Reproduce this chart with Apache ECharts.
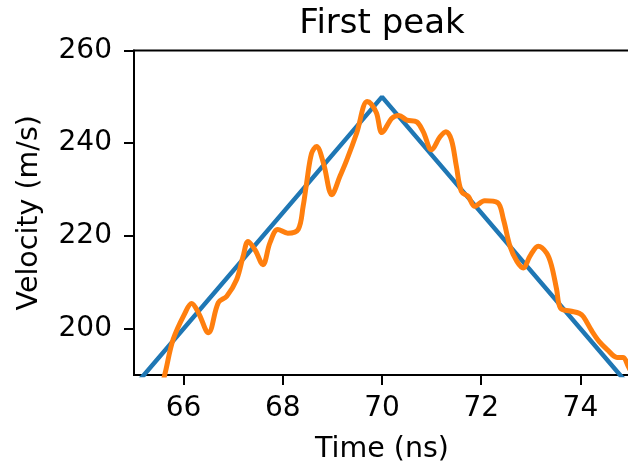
<!DOCTYPE html>
<html>
<head>
<meta charset="utf-8">
<script src="https://cdn.jsdelivr.net/npm/echarts@6/dist/echarts.min.js"></script>
<style>
  html, body { margin: 0; padding: 0; background: #fff; }
  #chart { width: 628px; height: 467px; }
</style>
</head>
<body>
<div id="chart"></div>
<script>
// Ideal (triangular) velocity profile
const modelTime = [65, 70, 75];
const modelVelocity = [187.5, 250, 187.5];

// Measured velocity trace
const measuredTime = [
  65.55, 65.63, 65.79, 66.03, 66.16, 66.3, 66.5, 66.7, 66.87, 67.07,
  67.2, 67.3, 67.44, 67.6, 67.74, 67.9, 68.1, 68.31, 68.41, 68.48,
  68.58, 68.68, 68.82, 68.99, 69.15, 69.29, 69.49, 69.7, 69.78, 69.89,
  70.0, 70.2, 70.34, 70.5, 70.7, 70.83, 71.0, 71.17, 71.29, 71.4,
  71.5, 71.6, 71.74, 71.87, 72.07, 72.33, 72.45, 72.58, 72.72, 72.85,
  72.98, 73.15, 73.32, 73.42, 73.52, 73.6, 73.79, 73.98, 74.06, 74.23,
  74.38, 74.54, 74.74, 74.86, 74.96, 75.05
];
const measuredVelocity = [
  187, 190.5, 197.7, 203.4, 205.4, 203.4, 199.1, 205.6, 207, 210.6,
  215.6, 218.8, 217, 213.8, 218.5, 221.4, 220.6, 221.4, 226.4, 231.4,
  237.8, 239.3, 235.7, 228.9, 232.8, 236.4, 242.2, 249, 248.5, 246.5,
  242.3, 245.4, 246, 245, 244.6, 242.5, 238.6, 241.4, 242.5, 240.7,
  235, 229.6, 228.5, 226.4, 227.6, 227.2, 223.5, 217.8, 214.5, 213.1,
  215.6, 217.8, 216.3, 213.5, 208.5, 204.4, 203.8, 203.3, 202.6, 199.5,
  197.2, 195.5, 193.8, 193.8, 192, 190
];

const xTicks = [66, 68, 70, 72, 74];
const yTicks = [200, 220, 240, 260];

const font = 'DejaVu Sans';

const chart = echarts.init(document.getElementById('chart'), null, { renderer: 'canvas' });

chart.setOption({
  animation: false,
  backgroundColor: '#ffffff',
  graphic: [{
    type: 'text',
    x: 382,
    y: 7,
    style: {
      text: 'First peak',
      fontFamily: font,
      fontSize: 34,
      fill: '#000',
      textAlign: 'center',
      textVerticalAlign: 'top'
    }
  }],
  grid: {
    left: 134,
    top: 50.5,
    width: 496,
    height: 324.5,
    outerBoundsMode: 'none',
    containLabel: false,
    show: true,
    borderColor: '#000',
    borderWidth: 2,
    backgroundColor: 'transparent'
  },
  xAxis: {
    type: 'value',
    min: 65,
    max: 75,
    name: 'Time (ns)',
    nameLocation: 'middle',
    nameGap: 60,
    nameTextStyle: { fontFamily: font, fontSize: 28.5, color: '#000' },
    axisLine: { show: true, onZero: false, lineStyle: { color: '#000', width: 2 } },
    axisTick: { show: true, length: 10, customValues: xTicks, lineStyle: { color: '#000', width: 2 } },
    axisLabel: { customValues: xTicks, fontFamily: font, fontSize: 28, color: '#000', margin: 20 },
    splitLine: { show: false }
  },
  yAxis: {
    type: 'value',
    min: 190,
    max: 260,
    name: 'Velocity (m/s)',
    nameLocation: 'middle',
    nameGap: 90,
    nameTextStyle: { fontFamily: font, fontSize: 28.5, color: '#000' },
    axisLine: { show: true, onZero: false, lineStyle: { color: '#000', width: 2 } },
    axisTick: { show: true, length: 10, customValues: yTicks, lineStyle: { color: '#000', width: 2 } },
    axisLabel: { customValues: yTicks, fontFamily: font, fontSize: 28, color: '#000', margin: 22 },
    splitLine: { show: false }
  },
  series: [
    {
      type: 'line',
      data: modelTime.map((t, i) => [t, modelVelocity[i]]),
      showSymbol: false,
      clip: true,
      lineStyle: { color: '#1f77b4', width: 4.5 },
      z: 2
    },
    {
      type: 'line',
      data: measuredTime.map((t, i) => [t, measuredVelocity[i]]),
      showSymbol: false,
      smooth: 0.35,
      clip: true,
      lineStyle: { color: '#ff7f0e', width: 5 },
      z: 3
    }
  ]
});
</script>
</body>
</html>
